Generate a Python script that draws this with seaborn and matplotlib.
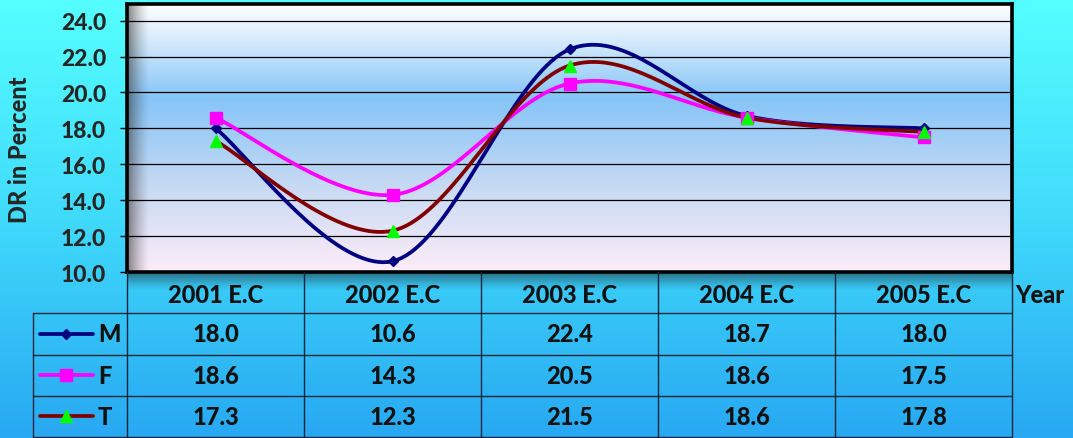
import numpy as np
import pandas as pd
import matplotlib
matplotlib.use("Agg")
import matplotlib.pyplot as plt
from matplotlib.colors import LinearSegmentedColormap
from matplotlib.lines import Line2D
import seaborn as sns

# data
years = ["2001 E.C", "2002 E.C", "2003 E.C", "2004 E.C", "2005 E.C"]
m_vals = [18.0, 10.6, 22.4, 18.7, 18.0]
f_vals = [18.6, 14.3, 20.5, 18.6, 17.5]
t_vals = [17.3, 12.3, 21.5, 18.6, 17.8]
series_names = ["M", "F", "T"]
y_ticks = [10.0, 12.0, 14.0, 16.0, 18.0, 20.0, 22.0, 24.0]

STYLES = {
    "M": dict(color="#000080", marker="D", mfc="#000080", ms=5),
    "F": dict(color="#FF00FF", marker="s", mfc="#FF00FF", ms=8),
    "T": dict(color="#800000", marker="^", mfc="#00FF00", ms=9),
}

sns.set_theme(style="white")
plt.rcParams["font.family"] = ["Lato", "DejaVu Sans"]
BOLD = 900


def smooth(xs, ys, n=40):
    """Excel-like smoothed line (Catmull-Rom as cubic Bezier)."""
    pts = np.column_stack([xs, ys]).astype(float)
    out = []
    for i in range(len(pts) - 1):
        p0 = pts[max(i - 1, 0)]
        p1 = pts[i]
        p2 = pts[i + 1]
        p3 = pts[min(i + 2, len(pts) - 1)]
        c1 = p1 + (p2 - p0) / 6
        c2 = p2 - (p3 - p1) / 6
        t = np.linspace(0, 1, n)[:, None]
        seg = (1 - t) ** 3 * p1 + 3 * (1 - t) ** 2 * t * c1 + 3 * (1 - t) * t ** 2 * c2 + t ** 3 * p2
        out.append(seg if i == 0 else seg[1:])
    return np.vstack(out)


df = pd.DataFrame({"Year": years, "M": m_vals, "F": f_vals, "T": t_vals})
df["x"] = np.arange(len(years))

W, H = 1073, 439
fig = plt.figure(figsize=(W / 100, H / 100), dpi=100)

# figure background gradient
bg = fig.add_axes([0, 0, 1, 1], zorder=-10)
bg_cmap = LinearSegmentedColormap.from_list("bg", ["#55FFFF", "#40DAFB", "#28A8F2"])
bg.imshow(np.linspace(0, 1, 256)[:, None], cmap=bg_cmap, aspect="auto", extent=[0, 1, 0, 1])
bg.set_axis_off()

ax_left, ax_right = 127 / W, 1012 / W
ax_top, ax_bot = 1 - 5 / H, 1 - 273 / H
ax = fig.add_axes([ax_left, ax_bot, ax_right - ax_left, ax_top - ax_bot])
ymin, ymax = 10.0, 24.93
ax.set_xlim(-0.5, len(years) - 0.5)
ax.set_ylim(ymin, ymax)

pa_cmap = LinearSegmentedColormap.from_list(
    "pa", [(0.0, "#FDECF9"), (0.3, "#CADBF3"), (0.65, "#86C5F8"), (0.9, "#E2F1FD"), (1.0, "#FFFFFF")])
ax.imshow(np.linspace(0, 1, 256)[:, None], cmap=pa_cmap, origin="lower", aspect="auto",
          extent=[-0.5, len(years) - 0.5, ymin, ymax], zorder=0)
# inner shadow on the left side of plot area
sh = np.zeros((1, 64, 4))
sh[..., :3] = 0.2
sh[..., 3] = np.linspace(0.7, 0, 64) ** 1.4
ax.imshow(sh, extent=[0, 0.025, 0, 1], transform=ax.transAxes, aspect="auto", zorder=0.5)

for yt in y_ticks[1:]:
    ax.axhline(yt, color="black", lw=0.9, zorder=1)

for name in series_names:
    st = STYLES[name]
    curve = smooth(df["x"], df[name])
    sns.lineplot(x=curve[:, 0], y=curve[:, 1], sort=False, ax=ax, color=st["color"],
                 lw=2.7, zorder=3, estimator=None)
    ax.plot(df["x"], df[name], ls="none", marker=st["marker"], ms=st["ms"],
            mfc=st["mfc"], mec=st["mfc"], zorder=4)

ax.set_yticks(y_ticks)
ax.set_yticklabels([f"{v:.1f}" for v in y_ticks], fontsize=16.5, fontweight=BOLD)
ax.set_xticks([])
ax.tick_params(axis="y", left=True, length=5, width=1, color="black", pad=10)
ax.set_ylabel("DR in Percent", fontsize=17, fontweight=BOLD)
ax.yaxis.set_label_coords(-0.109, 0.46)
for sp in ax.spines.values():
    sp.set_color("black")
    sp.set_linewidth(2.6)
    sp.set_zorder(5)

# shadow below the plot area
shb = np.zeros((64, 1, 4))
shb[..., :3] = 0.1
shb[..., 3] = (np.linspace(0.6, 0, 64) ** 1.3)[:, None]
bg_shadow = fig.add_axes([ax_left, 1 - 292 / H, ax_right - ax_left, 18 / H], zorder=-5)
bg_shadow.imshow(shb, aspect="auto", extent=[0, 1, 0, 1])
bg_shadow.set_axis_off()

# data table below the chart, sharing the category axis
tab = fig.add_axes([ax_left, 1 - 438 / H, ax_right - ax_left, 165 / H], sharex=ax)
tab.set_facecolor("none")
tab.set_ylim(4, 0)
tab.set_axis_off()
row_edges = [0, 1, 2, 3, 4]
leg_x0 = -1.03
line_kw = dict(color="#10263A", lw=1.0, clip_on=False)
for k in row_edges[1:]:
    tab.add_line(Line2D([leg_x0, len(years) - 0.5], [k, k], **line_kw))
for i in range(len(years) + 1):
    tab.add_line(Line2D([i - 0.5, i - 0.5], [0, 4], **line_kw))
tab.add_line(Line2D([leg_x0, leg_x0], [1, 4], **line_kw))

txt_kw = dict(ha="center", va="center", fontsize=17, fontweight=BOLD, color="#111111")
for i, yr in enumerate(years):
    tab.text(i, 0.55, yr, **txt_kw)
tab.text(len(years) - 0.5 + 0.02, 0.55, "Year", ha="left", va="center", fontsize=17,
         fontweight=BOLD, color="#111111")

for r, name in enumerate(series_names):
    yy = r + 1.5
    for i, v in enumerate(df[name]):
        tab.text(i, yy, f"{v:.1f}", **txt_kw)
    st = STYLES[name]
    tab.add_line(Line2D([-0.99, -0.69], [yy, yy], color=st["color"], lw=2.7,
                        solid_capstyle="round", clip_on=False))
    tab.add_line(Line2D([-0.845], [yy], ls="none", marker=st["marker"], ms=st["ms"],
                        mfc=st["mfc"], mec=st["mfc"], clip_on=False))
    tab.text(-0.665, yy, name, ha="left", va="center", fontsize=17, fontweight=BOLD,
             color="#111111")

fig.savefig("out.png", dpi=100)
